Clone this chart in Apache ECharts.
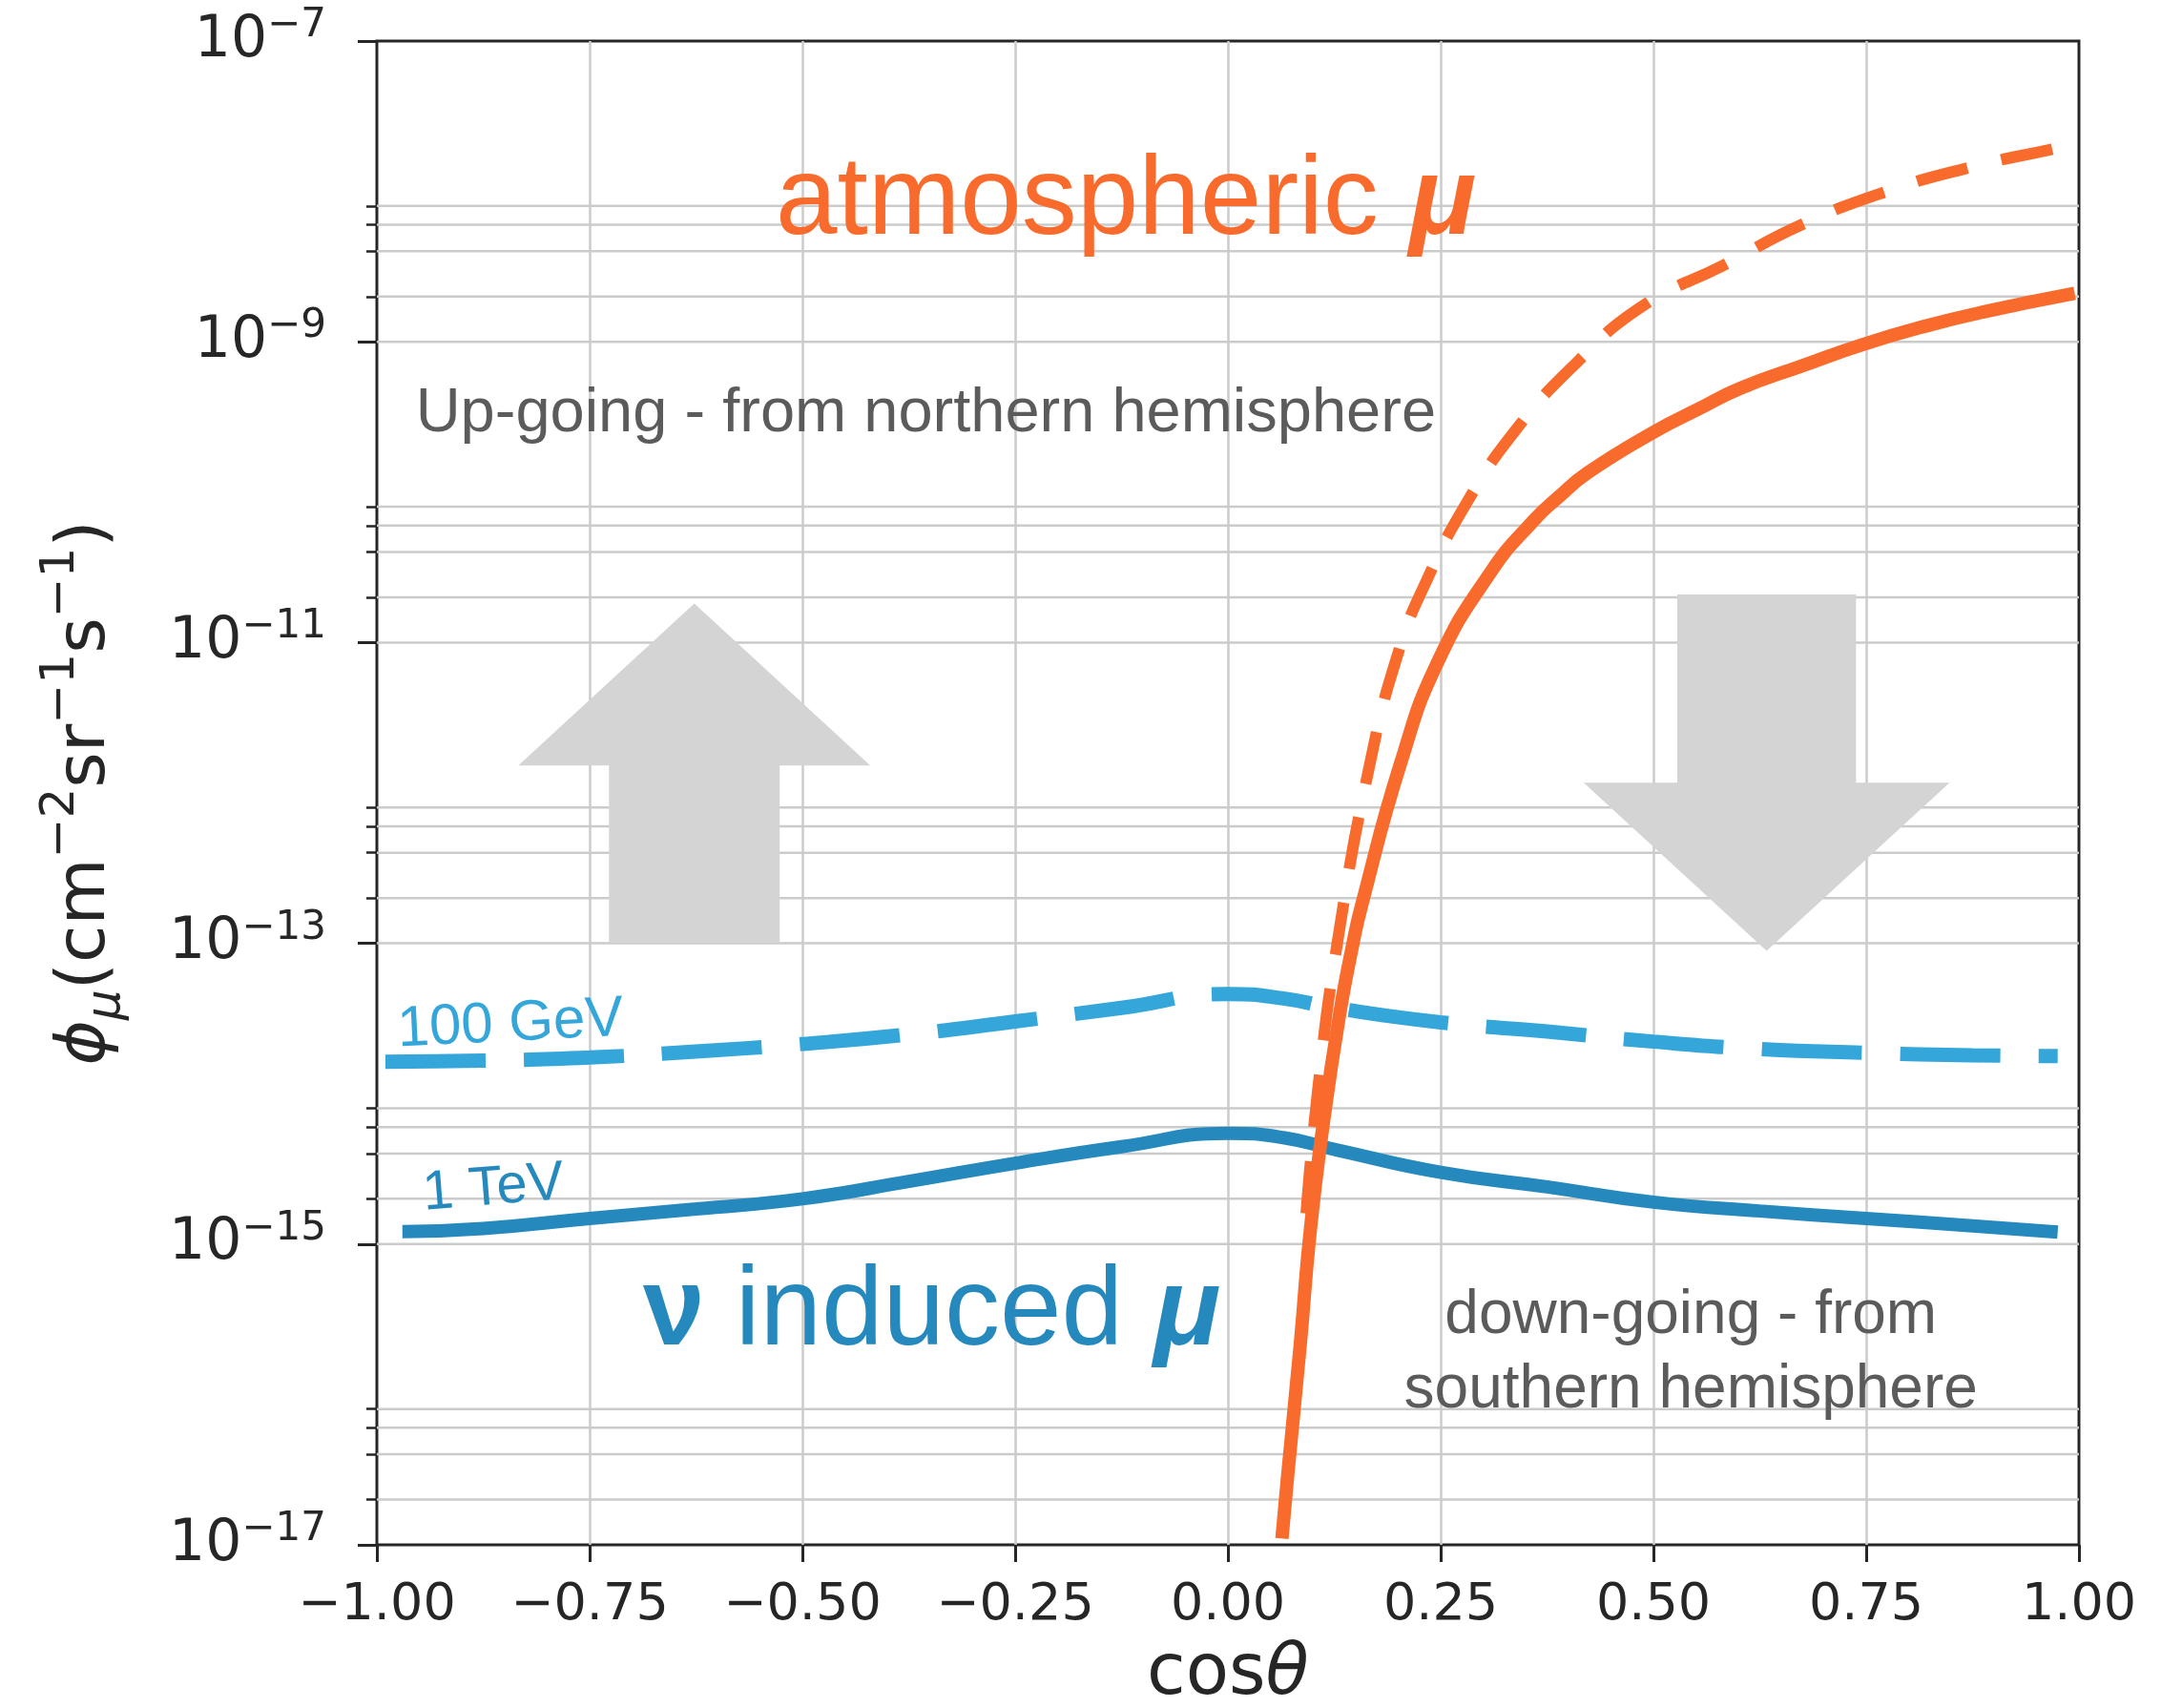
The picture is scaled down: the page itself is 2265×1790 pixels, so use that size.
<!DOCTYPE html>
<html><head><meta charset="utf-8">
<script src="https://cdn.jsdelivr.net/npm/echarts@6/dist/echarts.min.js"></script>
<style>html,body{margin:0;padding:0;background:#fff}#c{width:2265px;height:1790px}</style>
</head><body><div id="c"></div>
<script>
// ---- axis ticks ----
const xTickStep = 0.25;
const yMajorTicks = [1e-17, 1e-15, 1e-13, 1e-11, 1e-9, 1e-7];
const yMinorTicks = [2e-17, 4e-17, 6e-17, 8e-17, 2e-15, 4e-15, 6e-15, 8e-15,
  2e-13, 4e-13, 6e-13, 8e-13, 2e-11, 4e-11, 6e-11, 8e-11, 2e-9, 4e-9, 6e-9, 8e-9];
const yGridValues = [1e-15, 1e-13, 1e-11, 1e-9].concat(yMinorTicks);

// ---- series: nu-induced mu, 1 TeV (solid) ----
const tevCos  = [-0.97, -0.875, -0.75, -0.625, -0.5, -0.375, -0.25, -0.125, 0.0, 0.065, 0.13, 0.25, 0.375, 0.5, 0.625, 0.75, 0.875, 0.975];
const tevFlux = [1.21e-15, 1.27e-15, 1.48e-15, 1.71e-15, 2.0e-15, 2.61e-15, 3.45e-15, 4.44e-15, 5.45e-15, 5.1e-15, 4.2e-15, 3.0e-15, 2.4e-15, 1.9e-15, 1.66e-15, 1.48e-15, 1.32e-15, 1.2e-15];
// ---- nu-induced mu, 100 GeV (dashed) ----
const gevCos  = [-0.99, -0.875, -0.75, -0.625, -0.5, -0.375, -0.25, -0.125, 0.0, 0.065, 0.125, 0.25, 0.375, 0.5, 0.625, 0.75, 0.875, 0.975];
const gevFlux = [1.63e-14, 1.66e-14, 1.74e-14, 1.91e-14, 2.14e-14, 2.48e-14, 3.02e-14, 3.72e-14, 4.6e-14, 4.3e-14, 3.72e-14, 2.98e-14, 2.59e-14, 2.22e-14, 1.98e-14, 1.87e-14, 1.8e-14, 1.78e-14];
// ---- atmospheric mu (solid) ----
const atmCos  = [0.0635, 0.070, 0.0852, 0.0964, 0.112, 0.131, 0.147, 0.157, 0.203, 0.247, 0.309, 0.359, 0.389, 0.423, 0.502, 0.552, 0.602, 0.674, 0.745, 0.817, 0.888, 0.995];
const atmFlux = [1.1e-17, 2.8e-17, 2.2e-16, 1.17e-15, 6.3e-15, 3.3e-14, 1.0e-13, 1.78e-13, 1.58e-12, 7.5e-12, 2.95e-11, 6.46e-11, 9.33e-11, 1.35e-10, 2.54e-10, 3.55e-10, 4.9e-10, 6.9e-10, 9.55e-10, 1.26e-9, 1.58e-9, 2.1e-9];
// ---- atmospheric mu (dashed) ----
const atmDashCos  = [0.092, 0.106, 0.1285, 0.167, 0.2016, 0.2337, 0.280, 0.337, 0.409, 0.488, 0.581, 0.674, 0.774, 0.873, 0.974, 1.0];
const atmDashFlux = [1.6e-15, 1.1e-14, 1.0e-13, 1.58e-12, 9.1e-12, 2.6e-11, 8.4e-11, 2.54e-10, 7.2e-10, 1.74e-9, 3.2e-9, 6.0e-9, 1.0e-8, 1.45e-8, 1.94e-8, 2.09e-8];

// ---- annotation anchors (data coords) ----
const textNotes = [
  {key: 'atm', cos: -0.120, flux: 8.4e-9},
  {key: 'nu', cos: -0.348, flux: 3.44e-16},
  {key: 'up', cos: -0.355, flux: 3.28e-10},
  {key: 'down', cos: 0.544, flux: 1.87e-16},
  {key: 'gev', cos: -0.843, flux: 2.87e-14},
  {key: 'tev', cos: -0.863, flux: 2.33e-15}
];
const arrows = [
  {cx: -0.627, tip: 1.82e-11, base: 1.52e-12, tail: 1.02e-13, head: 0.2068, shaft: 0.1003},
  {cx: 0.633, tip: 8.9e-14, base: 1.17e-12, tail: 2.09e-11, head: 0.215, shaft: 0.105}
];

const AX = '#262626';
const GRID = '#cbcbcb';
const ORANGE = '#f96b2c', BLUE_D = '#2589be', BLUE_L = '#34a6da', GRAY = '#5b5b5b';
const pair = (xs, ys) => xs.map((x, i) => [x, ys[i]]);
const fmtX = v => (v < -1e-9 ? '\u2212' : '') + Math.abs(v).toFixed(2);

const chart = echarts.init(document.getElementById('c'));
const option = {
  animation: false,
  backgroundColor: '#ffffff',
  grid: {left: 395, right: 86, top: 43, bottom: 171, show: true, borderColor: AX, borderWidth: 3, outerBoundsMode: 'none'},
  xAxis: [{
    type: 'value', min: -1, max: 1, interval: xTickStep, position: 'bottom',
    axisLine: {show: false, onZero: false},
    axisTick: {show: true, length: 18, lineStyle: {color: AX, width: 3}},
    axisLabel: {margin: 37, fontSize: 54, lineHeight: 54, fontFamily: 'DejaVu Sans', color: AX, formatter: fmtX},
    splitLine: {show: true, showMinLine: false, showMaxLine: false, lineStyle: {color: GRID, width: 2.5}},
    name: '{a|cos}{b|θ}', nameLocation: 'middle', nameGap: 100,
    nameTextStyle: {rich: {
      a: {fontSize: 74, fontFamily: 'DejaVu Sans', color: AX},
      b: {fontSize: 74, fontFamily: 'DejaVu Sans', fontStyle: 'italic', color: AX}
    }}
  }],
  yAxis: [{
    type: 'log', logBase: 10, min: 1e-17, max: 1e-7, position: 'left',
    axisLine: {show: false, onZero: false},
    axisTick: {show: true, length: 20, customValues: yMajorTicks, lineStyle: {color: AX, width: 3}},
    axisLabel: {
      show: true, customValues: yMajorTicks, margin: 53,
      formatter: v => '{b|10}{s|\u2212' + (-Math.round(Math.log10(v))) + '}',
      rich: {
        b: {fontSize: 60, fontFamily: 'DejaVu Sans', color: AX},
        s: {fontSize: 42, fontFamily: 'DejaVu Sans', color: AX, padding: [0, 0, 32, 0]}
      }
    },
    splitLine: {show: false},
    name: '{p|ϕ}{u|μ}{t|(cm}{e|\u22122}{t|sr}{e|\u22121}{t|s}{e|\u22121}{t|)}',
    nameLocation: 'middle', nameGap: 253, nameRotate: 90,
    nameTextStyle: {rich: {
      p: {fontSize: 72, fontFamily: 'DejaVu Sans', fontStyle: 'italic', color: AX},
      u: {fontSize: 50, fontFamily: 'DejaVu Sans', fontStyle: 'italic', color: AX, padding: [43, 0, 0, 0]},
      t: {fontSize: 72, fontFamily: 'DejaVu Sans', color: AX},
      e: {fontSize: 50, fontFamily: 'DejaVu Sans', color: AX, padding: [0, 0, 53, 0]}
    }}
  }, {
    type: 'log', logBase: 10, min: 1e-17, max: 1e-7, position: 'left',
    axisLine: {show: false, onZero: false}, axisLabel: {show: false}, splitLine: {show: false},
    axisTick: {show: true, length: 11, customValues: yMinorTicks, lineStyle: {color: AX, width: 2.5}}
  }],
  series: [
    {type: 'custom', z: 0, silent: true, clip: true,
     data: yGridValues.map(v => [0, v]),
     renderItem: (params, api) => {
       const v = api.value(1);
       const a = api.coord([-1, v]);
       const b = api.coord([1, v]);
       return {type: 'line', shape: {x1: a[0], y1: a[1], x2: b[0], y2: b[1]},
               style: {stroke: GRID, lineWidth: 2.5}};
     }},
    {name: '100 GeV', type: 'line', data: pair(gevCos, gevFlux), showSymbol: false, smooth: 0.5,
     lineStyle: {color: BLUE_L, width: 15, type: [105, 40]}, emphasis: {disabled: true}},
    {name: '1 TeV', type: 'line', data: pair(tevCos, tevFlux), showSymbol: false, smooth: 0.5,
     lineStyle: {color: BLUE_D, width: 14}, emphasis: {disabled: true}},
    {name: 'atm dashed', type: 'line', data: pair(atmDashCos, atmDashFlux), showSymbol: false, smooth: 0.5,
     lineStyle: {color: ORANGE, width: 12, type: [55, 36]}, emphasis: {disabled: true}},
    {name: 'atm', type: 'line', data: pair(atmCos, atmFlux), showSymbol: false, smooth: 0.5,
     lineStyle: {color: ORANGE, width: 14}, emphasis: {disabled: true}}
  ]
};
chart.setOption(option);

function px(x, y) { return chart.convertToPixel({xAxisIndex: 0, yAxisIndex: 0}, [x, y]); }
const F = 'Liberation Sans';
const noteStyle = {
  atm: {text: '{a|atmospheric }{m|μ}', rich: {
    a: {fontSize: 116, fontFamily: F, fill: ORANGE},
    m: {fontSize: 116, fontFamily: F, fill: ORANGE, fontWeight: 'bold', fontStyle: 'italic'}}},
  nu: {text: '{n|ν}{a| induced }{m|μ}', rich: {
    n: {fontSize: 116, fontFamily: F, fill: BLUE_D, fontWeight: 'bold'},
    a: {fontSize: 116, fontFamily: F, fill: BLUE_D},
    m: {fontSize: 116, fontFamily: F, fill: BLUE_D, fontWeight: 'bold', fontStyle: 'italic'}}},
  up: {text: 'Up-going - from northern hemisphere', fontSize: 65, fontFamily: F, fill: GRAY},
  down: {text: 'down-going - from\nsouthern hemisphere', fontSize: 64, lineHeight: 78, fontFamily: F, fill: GRAY},
  gev: {text: '100 GeV', fontSize: 60, fontFamily: F, fill: BLUE_L, rot: 0.05},
  tev: {text: '1 TeV', fontSize: 58, fontFamily: F, fill: BLUE_D, rot: 0.08}
};
const graphics = [];
arrows.forEach(a => {
  const pts = [
    [a.cx - a.head, a.base], [a.cx, a.tip], [a.cx + a.head, a.base],
    [a.cx + a.shaft, a.base], [a.cx + a.shaft, a.tail], [a.cx - a.shaft, a.tail], [a.cx - a.shaft, a.base]
  ].map(p => px(p[0], p[1]));
  graphics.push({type: 'polygon', z: 1, silent: true, shape: {points: pts}, style: {fill: '#d4d4d4'}});
});
textNotes.forEach(n => {
  const s = noteStyle[n.key];
  const p = px(n.cos, n.flux);
  const style = Object.assign({align: 'center', verticalAlign: 'middle'}, s);
  delete style.rot;
  graphics.push({type: 'text', z: 5, silent: true, x: p[0], y: p[1], rotation: s.rot || 0, style: style});
});
chart.setOption({graphic: graphics});
</script></body></html>
